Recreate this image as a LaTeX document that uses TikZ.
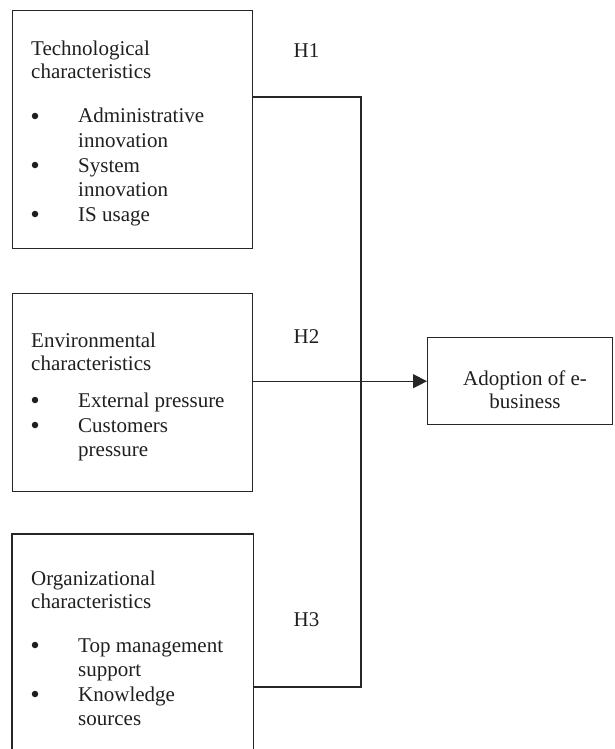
\documentclass[tikz,border=0pt]{standalone}
\usepackage{fontspec}
\setmainfont{Liberation Serif}
\usetikzlibrary{arrows.meta}
\begin{document}
\begin{tikzpicture}[x=1pt,y=-1pt,
  every node/.style={font=\fontsize{21}{24}\selectfont, text=black!88},
  box/.style={draw=black!85, line width=1.4pt, inner sep=0pt, anchor=north west},
  txt/.style={anchor=base west, inner sep=0pt},
  bul/.style={circle, fill=black!88, inner sep=0pt, minimum size=6.5pt, yshift=7pt},
  lbl/.style={anchor=base, inner sep=0pt},
  conn/.style={draw=black!85, line width=1.3pt}
]
\useasboundingbox (0,0) rectangle (614,749);

% boxes
\node[box, minimum width=240pt, minimum height=238pt] (box1) at (12,10) {};
\node[box, minimum width=240pt, minimum height=198pt] (box2) at (12,293) {};
\node[box, draw=none, minimum width=240pt, minimum height=215pt] (box3) at (12,534) {};
\draw[draw=black!85, line width=1.4pt] (box3.south west) -- (box3.north west) -- (box3.north east) -- (box3.south east);
\node[box, minimum width=185pt, minimum height=87pt] (target) at (427,337) {};

% box 1 text
\node[txt] (t1a) at (31,56) {Technological};
\node[txt] (t1b) at (31,79) {characteristics};
\node[bul] (b1a) at (35,123) {};
\node[txt] (t1c) at (78,123) {Administrative};
\node[txt] (t1d) at (78,147.5) {innovation};
\node[bul] (b1b) at (35,172) {};
\node[txt] (t1e) at (78,172) {System};
\node[txt] (t1f) at (78,196.5) {innovation};
\node[bul] (b1c) at (35,221) {};
\node[txt] (t1g) at (78,221) {IS usage};

% box 2 text
\node[txt] (t2a) at (31,347) {Environmental};
\node[txt] (t2b) at (31,370) {characteristics};
\node[bul] (b2a) at (35,407) {};
\node[txt] (t2c) at (78,407) {External pressure};
\node[bul] (b2b) at (35,432) {};
\node[txt] (t2d) at (78,432) {Customers};
\node[txt] (t2e) at (78,456) {pressure};

% box 3 text
\node[txt] (t3a) at (31,585) {Organizational};
\node[txt] (t3b) at (31,608) {characteristics};
\node[bul] (b3a) at (35,652) {};
\node[txt] (t3c) at (78,652) {Top management};
\node[txt] (t3d) at (78,676.5) {support};
\node[bul] (b3b) at (35,701) {};
\node[txt] (t3e) at (78,701) {Knowledge};
\node[txt] (t3f) at (78,725.5) {sources};

% target text
\node[lbl] (ta) at (525,385) {Adoption of e-};
\node[lbl] (tb) at (525,408) {business};

% hypothesis labels
\node[lbl] (h1) at (306.5,58) {H1};
\node[lbl] (h2) at (306.5,343) {H2};
\node[lbl] (h3) at (306.5,626) {H3};

% connectors
\coordinate (j1) at (361,97);
\coordinate (j3) at (361,687);
\draw[conn] (box1.east |- j1) -- (j1) -- (j3) -- (box3.east |- j3);
\draw[conn, -{Triangle[length=14pt,width=14pt]}] (box2.east |- target.west) -- (target.west);
\end{tikzpicture}
\end{document}
